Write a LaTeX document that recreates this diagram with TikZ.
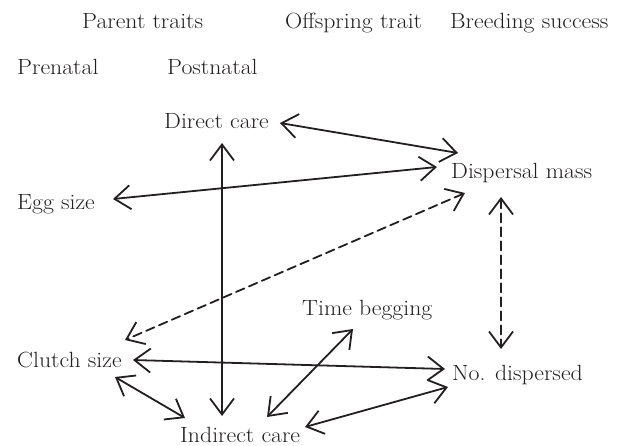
\documentclass[tikz,border=0pt]{standalone}
\usetikzlibrary{arrows.meta}
\definecolor{ink}{HTML}{231F20}
\newcommand\wtext[1]{\scalebox{1.08}[1]{#1}}
\begin{document}
\begin{tikzpicture}[x=1pt,y=-1pt,
  lbl/.style={anchor=base west, inner sep=0pt, text=ink,
    font=\fontsize{22}{24}\selectfont},
  link/.style={draw=ink, line width=1.8pt, line cap=round,
    {Straight Barb[length=16pt,width=24pt]}-{Straight Barb[length=16pt,width=24pt]}},
  dlink/.style={link, dash pattern=on 9pt off 5pt}]
\useasboundingbox (0,0) rectangle (624,446);
% headers
\node[lbl] (pt) at (82,29) {\wtext{Parent traits}};
\node[lbl] (ot) at (285,29) {\wtext{Offspring trait}};
\node[lbl] (bs) at (450,29) {\wtext{Breeding success}};
\node[lbl] (pre) at (17,75) {\wtext{Prenatal}};
\node[lbl] (post) at (167,75) {\wtext{Postnatal}};
% traits
\node[lbl] (dc) at (164,129) {\wtext{Direct care}};
\node[lbl] (dm) at (451,179) {\wtext{Dispersal mass}};
\node[lbl] (es) at (17,210) {\wtext{Egg size}};
\node[lbl] (tb) at (302,316) {\wtext{Time begging}};
\node[lbl] (cs) at (17,367) {\wtext{Clutch size}};
\node[lbl] (nd) at (452,381) {\wtext{No. dispersed}};
\node[lbl] (ic) at (180,442) {\wtext{Indirect care}};
% connectors
\draw[link] ([shift={(116,-6)}]dc.base west) -- ([shift={(7,-26)}]dm.base west);
\draw[link] ([shift={(96,-11)}]es.base west) -- ([shift={(-14,-12)}]dm.base west);
\draw[link] ([shift={(58,14)}]dc.base west) -- ([shift={(42,-26)}]ic.base west);
\draw[dlink] ([shift={(14,14)}]dm.base west) -- ([shift={(108,-27)}]cs.base west);
\draw[dlink] ([shift={(50,18)}]dm.base west) -- ([shift={(49,-32)}]nd.base west);
\draw[link] ([shift={(116,-7)}]cs.base west) -- ([shift={(-7,-12)}]nd.base west);
\draw[link] ([shift={(98,10)}]cs.base west) -- ([shift={(5,-24)}]ic.base west);
\draw[link] ([shift={(51,13)}]tb.base west) -- ([shift={(87,-25)}]ic.base west);
\draw[link] ([shift={(125,-15)}]ic.base west) -- ([shift={(-4,6)}]nd.base west);
\end{tikzpicture}
\end{document}
